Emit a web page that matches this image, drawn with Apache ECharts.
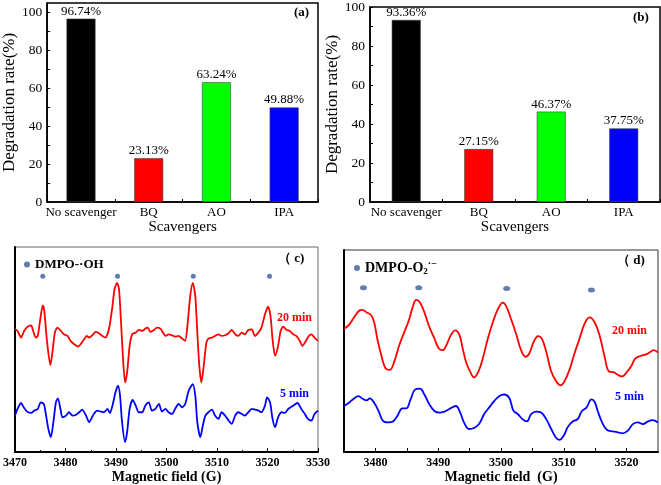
<!DOCTYPE html>
<html><head><meta charset="utf-8">
<script src="https://cdn.jsdelivr.net/npm/echarts@6/dist/echarts.min.js"></script>
<style>html,body{margin:0;padding:0;background:#fff}#c{width:661px;height:485px}</style>
</head><body><div id="c"></div>
<script>
// ---- data ----
const scavengers = ['No scavenger', 'BQ', 'AO', 'IPA'];
const rateA = [96.74, 23.13, 63.24, 49.88];
const rateB = [93.36, 27.15, 46.37, 37.75];
const barColors = ['#000000', '#ff0000', '#00ff00', '#0000ff'];
const rateLabelTicks = [0, 20, 40, 60, 80, 100];
const rateMinorTicks = [0, 10, 20, 30, 40, 50, 60, 70, 80, 90, 100];
const fieldTicksD = [3480, 3490, 3500, 3510, 3520];
const fieldMinorD = [3480, 3485, 3490, 3495, 3500, 3505, 3510, 3515, 3520];

// DMPO-.OH spectra: [field G, intensity a.u.]
const oh20min = [[3470.0,370],[3470.5,365],[3471.2,345],[3471.8,365],[3472.5,378],[3473.2,382],[3473.5,370],[3474.1,345],[3474.5,350],[3475.0,400],[3475.5,442],[3475.8,425],[3476.3,340],[3477.0,262],[3477.4,300],[3477.9,360],[3478.4,375],[3479.1,365],[3479.7,355],[3480.4,350],[3481.0,335],[3481.7,325],[3482.5,318],[3483.0,325],[3483.7,340],[3484.2,350],[3484.7,345],[3485.3,352],[3486.0,362],[3486.6,358],[3487.3,350],[3487.9,345],[3488.6,370],[3489.3,440],[3489.7,490],[3490.2,510],[3490.6,490],[3491.0,390],[3491.4,280],[3491.8,210],[3492.2,240],[3492.7,320],[3493.2,355],[3493.9,360],[3494.5,368],[3495.2,365],[3495.8,372],[3496.3,375],[3496.8,362],[3497.5,368],[3498.1,375],[3498.8,372],[3499.3,360],[3499.8,350],[3500.4,355],[3501.1,352],[3501.7,348],[3502.4,350],[3503.1,342],[3503.7,335],[3504.2,390],[3504.7,470],[3505.2,510],[3505.7,470],[3506.1,360],[3506.5,260],[3506.9,210],[3507.3,250],[3507.9,330],[3508.3,342],[3509.0,345],[3509.6,350],[3510.3,355],[3510.9,350],[3511.6,352],[3512.3,358],[3512.9,368],[3513.6,355],[3514.2,350],[3514.9,360],[3515.5,355],[3516.2,368],[3516.9,370],[3517.5,350],[3518.2,360],[3518.8,375],[3519.5,415],[3520.1,438],[3520.6,410],[3521.0,340],[3521.5,290],[3522.1,320],[3522.6,365],[3523.1,378],[3523.8,368],[3524.4,365],[3525.1,355],[3525.7,350],[3526.4,335],[3526.9,320],[3527.6,335],[3528.2,350],[3528.7,355],[3529.3,345],[3530.0,335]];
const oh5min = [[3470.0,110],[3470.5,130],[3471.2,148],[3471.7,135],[3472.4,122],[3473.2,118],[3473.8,125],[3474.5,130],[3475.1,150],[3475.7,145],[3476.1,115],[3476.6,70],[3477.1,45],[3477.6,90],[3478.1,150],[3478.5,162],[3479.0,130],[3479.4,105],[3480.1,110],[3480.7,120],[3481.4,110],[3482.0,112],[3482.7,120],[3483.3,128],[3484.0,112],[3484.7,90],[3485.1,100],[3485.6,115],[3486.3,125],[3487.0,122],[3487.6,120],[3488.3,130],[3488.8,118],[3489.3,140],[3489.9,180],[3490.4,200],[3490.8,170],[3491.2,90],[3491.8,30],[3492.2,60],[3492.7,130],[3493.3,157],[3493.9,140],[3494.5,120],[3495.2,120],[3495.8,140],[3496.5,150],[3497.1,125],[3497.8,130],[3498.5,145],[3499.1,122],[3499.8,130],[3500.4,120],[3501.1,115],[3501.7,130],[3502.4,145],[3503.1,135],[3503.7,145],[3504.4,185],[3505.2,205],[3505.7,170],[3506.1,90],[3506.7,45],[3507.2,80],[3507.7,110],[3508.3,120],[3509.0,128],[3509.6,110],[3510.3,100],[3510.9,120],[3511.6,110],[3512.3,95],[3512.9,85],[3513.6,110],[3514.2,120],[3514.9,115],[3515.5,110],[3516.2,120],[3516.9,130],[3517.5,128],[3518.2,125],[3518.8,120],[3519.5,140],[3519.9,165],[3520.5,150],[3521.0,100],[3521.5,75],[3522.1,105],[3522.8,120],[3523.4,118],[3524.1,130],[3525.1,140],[3525.9,148],[3526.7,130],[3527.4,115],[3528.0,100],[3528.7,95],[3529.3,115],[3530.0,125]];
const ohMarkers = [[3475.5,530],[3490.3,530],[3505.3,530],[3520.4,530]];

// DMPO-O2.- spectra
const o2_20min = [[3475.0,375],[3475.8,387],[3476.6,410],[3477.4,430],[3477.9,433],[3478.6,425],[3479.3,417],[3479.8,395],[3480.3,345],[3481.0,290],[3481.6,255],[3482.3,250],[3483.0,275],[3483.8,325],[3484.6,365],[3485.4,405],[3486.0,445],[3486.5,463],[3487.1,455],[3487.8,425],[3488.6,380],[3489.4,345],[3490.1,315],[3490.7,310],[3491.3,325],[3492.0,355],[3492.7,370],[3493.4,355],[3493.9,315],[3494.5,270],[3495.2,240],[3495.7,227],[3496.4,245],[3497.1,285],[3497.9,345],[3498.7,395],[3499.5,435],[3500.3,455],[3500.8,445],[3501.6,405],[3502.4,360],[3503.2,310],[3503.9,290],[3504.5,300],[3505.2,335],[3505.9,353],[3506.5,345],[3507.2,305],[3508.0,245],[3508.8,215],[3509.5,203],[3510.1,215],[3510.9,250],[3511.7,300],[3512.5,345],[3513.3,390],[3514.1,410],[3514.9,395],[3515.7,355],[3516.5,290],[3517.2,245],[3517.9,243],[3518.6,235],[3519.3,230],[3519.9,240],[3520.7,260],[3521.4,285],[3522.3,293],[3523.1,297],[3523.8,305],[3524.3,310],[3525.0,303]];
const o2_5min = [[3475.0,140],[3475.8,150],[3476.6,163],[3477.3,170],[3477.9,163],[3478.6,157],[3479.1,163],[3479.8,150],[3480.5,125],[3481.2,95],[3482.1,90],[3482.8,93],[3483.5,110],[3484.3,133],[3484.9,133],[3485.6,160],[3486.3,190],[3487.1,193],[3487.8,175],[3488.6,145],[3489.4,125],[3490.2,120],[3491.0,123],[3491.7,130],[3492.8,140],[3493.5,120],[3494.1,90],[3494.9,70],[3495.7,73],[3496.5,85],[3497.3,115],[3498.1,135],[3498.9,155],[3499.7,170],[3500.5,175],[3501.3,165],[3502.0,125],[3502.7,115],[3503.4,100],[3504.1,93],[3504.8,115],[3505.6,123],[3506.4,120],[3507.2,100],[3508.0,70],[3508.7,45],[3509.3,37],[3510.0,50],[3510.6,75],[3511.4,93],[3512.2,100],[3512.9,125],[3513.6,135],[3514.4,160],[3514.9,153],[3515.4,125],[3516.1,90],[3516.9,67],[3517.8,63],[3518.6,60],[3519.4,57],[3520.2,65],[3521.0,85],[3521.8,90],[3522.6,85],[3523.4,93],[3524.1,97],[3525.0,90]];
const o2Markers = [[3478.1,500],[3486.9,500],[3500.9,498],[3514.4,493]];

// ---- chart ----
const serif = '"Liberation Serif","Times New Roman",serif';
const chart = echarts.init(document.getElementById('c'));
const plain = v => String(v);

function barXAxis(gi) {
  return {
    gridIndex: gi, type: 'category', data: scavengers, boundaryGap: true,
    axisLine: {show: true, lineStyle: {color: '#000', width: 1.5}},
    axisTick: {show: true, inside: true, length: 3, alignWithLabel: false, lineStyle: {color: '#000'}},
    axisLabel: {color: '#000', fontFamily: serif, fontSize: 13, margin: 4, interval: 0},
    splitLine: {show: false},
    name: 'Scavengers', nameLocation: 'middle', nameGap: 17,
    nameTextStyle: {color: '#000', fontFamily: serif, fontSize: 15}
  };
}
function barYAxis(gi, max, gap) {
  return {
    gridIndex: gi, type: 'value', min: 0, max: max,
    axisLine: {show: true, lineStyle: {color: '#000', width: 1.5}},
    axisTick: {show: true, inside: true, length: 3, customValues: rateMinorTicks, lineStyle: {color: '#000'}},
    axisLabel: {customValues: rateLabelTicks, formatter: plain, color: '#000', fontFamily: serif, fontSize: 13.5, margin: 5},
    splitLine: {show: false},
    name: 'Degradation rate(%)', nameLocation: 'middle', nameGap: gap,
    nameTextStyle: {color: '#000', fontFamily: serif, fontSize: 17}
  };
}
function barSeries(idx, vals) {
  return {
    type: 'bar', xAxisIndex: idx, yAxisIndex: idx, barWidth: 29,
    data: vals.map((v, i) => ({value: v, itemStyle: {color: barColors[i]}})),
    itemStyle: {borderColor: '#444', borderWidth: 0.6},
    label: {show: true, position: 'top', distance: 1, formatter: '{c}%', color: '#000', fontFamily: serif, fontSize: 13}
  };
}
function eprYAxis(gi, max) {
  return {
    gridIndex: gi, type: 'value', min: 0, max: max,
    axisLine: {show: true, lineStyle: {color: '#000', width: 2}},
    axisTick: {show: false}, axisLabel: {show: false}, splitLine: {show: false}
  };
}
const eprName = {color: '#000', fontFamily: serif, fontSize: 14, fontWeight: 'bold'};
function line(idx, data, color, smooth) {
  return {type: 'line', xAxisIndex: idx, yAxisIndex: idx, data: data, showSymbol: false, smooth: smooth,
    lineStyle: {color: color, width: 1.8}, itemStyle: {color: color}, z: 3};
}

chart.setOption({
  animation: false,
  backgroundColor: '#fff',
  grid: [
    {left: 34, top: 3, width: 284, height: 199, show: true, borderColor: '#000', borderWidth: 1.5, backgroundColor: 'transparent'},
    {left: 370, top: 6, width: 290, height: 196, show: true, borderColor: '#000', borderWidth: 1.5, backgroundColor: 'transparent'},
    {left: 14, top: 247, width: 304, height: 206, show: true, borderColor: '#666', borderWidth: 1, backgroundColor: 'transparent'},
    {left: 344, top: 250, width: 314, height: 204, show: true, borderColor: '#333', borderWidth: 1, backgroundColor: 'transparent'}
  ],
  legend: [
    {data: [{name: 'DMPO-·OH', icon: 'circle'}], left: 19, top: 253, itemWidth: 6, itemHeight: 6, itemGap: 4,
      textStyle: {color: '#000', fontFamily: serif, fontSize: 13, fontWeight: 'bold'}},
    {data: [{name: 'DMPO-O2', icon: 'circle'}], left: 349, top: 254, itemWidth: 6, itemHeight: 6, itemGap: 4,
      formatter: () => '{m|DMPO-O}{s|2}{p|·−}',
      textStyle: {color: '#000', fontFamily: serif, fontSize: 14, fontWeight: 'bold',
        rich: {m: {fontFamily: serif, fontSize: 14, fontWeight: 'bold', color: '#000'},
               s: {fontFamily: serif, fontSize: 9, fontWeight: 'bold', color: '#000', padding: [7, 0, 0, 0]},
               p: {fontFamily: serif, fontSize: 10, fontWeight: 'bold', color: '#000', padding: [0, 0, 8, 0]}}}}
  ],
  xAxis: [
    barXAxis(0), barXAxis(1),
    {gridIndex: 2, type: 'value', min: 3470, max: 3530, interval: 10,
      axisLine: {show: true, lineStyle: {color: '#000', width: 2}},
      axisTick: {show: true, inside: true, length: 4, lineStyle: {color: '#000'}},
      minorTick: {show: true, splitNumber: 2, length: 2, lineStyle: {color: '#000'}},
      axisLabel: {formatter: plain, color: '#000', fontFamily: serif, fontSize: 12, fontWeight: 'bold', margin: 5},
      splitLine: {show: false},
      name: 'Magnetic field (G)', nameLocation: 'middle', nameGap: 17, nameTextStyle: eprName},
    {gridIndex: 3, type: 'value', min: 3475, max: 3525,
      axisLine: {show: true, lineStyle: {color: '#000', width: 2}},
      axisTick: {show: true, inside: true, length: 4, customValues: fieldMinorD, lineStyle: {color: '#000'}},
      axisLabel: {customValues: fieldTicksD, formatter: plain, color: '#000', fontFamily: serif, fontSize: 12, fontWeight: 'bold', margin: 5},
      splitLine: {show: false},
      name: 'Magnetic field  (G)', nameLocation: 'middle', nameGap: 18, nameTextStyle: eprName}
  ],
  yAxis: [barYAxis(0, 105, 17), barYAxis(1, 100, 20), eprYAxis(2, 618), eprYAxis(3, 615)],
  series: [
    barSeries(0, rateA),
    barSeries(1, rateB),
    line(2, oh20min, '#ff0000', 0.25),
    line(2, oh5min, '#0000ff', 0.25),
    {name: 'DMPO-·OH', type: 'scatter', xAxisIndex: 2, yAxisIndex: 2, data: ohMarkers, symbolSize: 5, itemStyle: {color: '#3d5a9a'}},
    line(3, o2_20min, '#ff0000', 0.4),
    line(3, o2_5min, '#0000ff', 0.4),
    {name: 'DMPO-O2', type: 'scatter', xAxisIndex: 3, yAxisIndex: 3, data: o2Markers, symbol: 'circle', symbolSize: [7, 5], itemStyle: {color: '#3d5a9a'}}
  ],
  graphic: [
    {type: 'text', left: 294, top: 6, style: {text: '(a)', fill: '#000', font: 'bold 13px ' + serif}},
    {type: 'text', left: 633, top: 11, style: {text: '(b)', fill: '#000', font: 'bold 13px ' + serif}},
    {type: 'text', left: 278, top: 252, style: {text: '（ c)', fill: '#000', font: 'bold 13px ' + serif}},
    {type: 'text', left: 617, top: 254, style: {text: '（ d)', fill: '#000', font: 'bold 13px ' + serif}},
    {type: 'text', left: 277, top: 312, style: {text: '20 min', fill: '#ff0000', font: 'bold 12px ' + serif}},
    {type: 'text', left: 280, top: 388, style: {text: '5 min', fill: '#0000ff', font: 'bold 12px ' + serif}},
    {type: 'text', left: 612, top: 325, style: {text: '20 min', fill: '#ff0000', font: 'bold 12px ' + serif}},
    {type: 'text', left: 615, top: 391, style: {text: '5 min', fill: '#0000ff', font: 'bold 12px ' + serif}}
  ]
});
</script>
</body></html>
